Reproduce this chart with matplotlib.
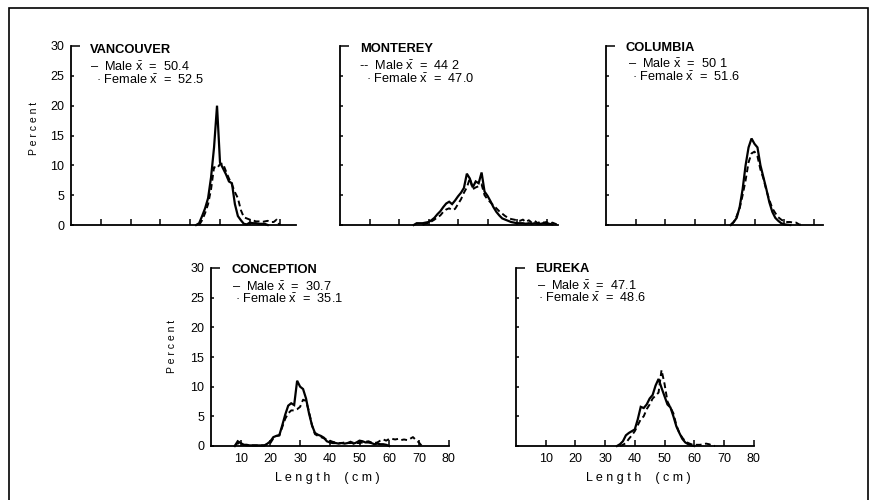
import matplotlib
matplotlib.use("Agg")
import matplotlib.pyplot as plt
from matplotlib.patches import Rectangle

plt.rcParams['font.family'] = ['Liberation Sans', 'DejaVu Sans']
plt.rcParams['mathtext.fontset'] = 'custom'
plt.rcParams['mathtext.rm'] = 'Liberation Sans'
plt.rcParams['mathtext.it'] = 'Liberation Sans'

# ---------------- data (length in cm, percent) ----------------
van_len_m = list(range(42, 67))
van_m = [0, 0.3, 1.5, 2.8, 4.5, 8.0, 13.0, 20.0, 10.5, 9.5, 8.5, 7.3, 7.0, 3.5, 1.5,
         0.8, 0.2, 0.1, 0.4, 0.3, 0.3, 0.2, 0.2, 0.2, 0]
van_len_f = list(range(43, 71))
van_f = [0, 0.8, 2.0, 3.5, 6.0, 9.7, 9.5, 10.2, 10.3, 9.0, 7.8, 6.8, 5.5, 4.5, 2.5,
         1.3, 1.1, 0.9, 0.8, 0.6, 0.6, 0.5, 0.6, 0.7, 0.5, 0.5, 0.9, 0]

mon_len_m = list(range(25, 73))
mon_m = [0, 0.3, 0.3, 0.3, 0.4, 0.5, 0.8, 1.2, 1.8, 2.3, 3.0, 3.6, 3.9, 3.5, 4.1,
         4.8, 5.4, 6.2, 8.6, 7.8, 6.3, 7.3, 7.0, 8.8, 5.6, 4.9, 4.0, 3.0, 2.2, 1.6,
         1.1, 0.9, 0.7, 0.5, 0.4, 0.3, 0.3, 0.3, 0.2, 0.3, 0.2, 0.3, 0.2, 0.2, 0.3,
         0.2, 0.2, 0.1]
mon_len_f = list(range(28, 75))
mon_f = [0, 0.2, 0.3, 0.6, 0.9, 1.3, 1.6, 2.2, 2.6, 2.8, 2.5, 2.7, 3.5, 4.3, 5.4,
         6.3, 7.8, 6.0, 6.3, 6.5, 6.8, 5.0, 4.3, 3.8, 3.3, 2.8, 2.3, 1.9, 1.5, 1.2,
         1.0, 0.9, 0.8, 0.7, 0.9, 0.5, 0.8, 0.4, 0.7, 0.3, 0.6, 0.4, 0.5, 0.2, 0.4,
         0.2, 0]

col_len_m = list(range(42, 63))
col_m = [0, 0.5, 1.2, 3.0, 6.0, 10.0, 13.0, 14.5, 13.6, 13.0, 10.0, 8.0, 6.0, 3.8,
         2.2, 1.2, 0.7, 0.3, 0.1, 0.05, 0]
col_len_f = list(range(42, 67))
col_f = [0, 0.5, 1.5, 2.8, 5.0, 7.5, 10.5, 12.0, 12.3, 11.5, 9.3, 7.8, 5.8, 4.2,
         2.8, 2.0, 1.3, 0.9, 0.6, 0.5, 0.5, 0.4, 0.4, 0.1, 0]

con_len_m = list(range(8, 61))
con_m = [0, 0.8, 0.5, 0.2, 0.2, 0.1, 0.1, 0.1, 0.1, 0.1, 0.1, 0.4, 0.8, 1.5, 1.7,
         1.8, 3.5, 5.3, 6.8, 7.2, 6.9, 11.0, 10.0, 9.6, 8.0, 5.5, 3.5, 2.2, 1.9, 1.7,
         1.4, 0.8, 0.6, 0.5, 0.5, 0.4, 0.5, 0.4, 0.5, 0.7, 0.4, 0.6, 0.9, 0.8, 0.6,
         0.6, 0.5, 0.3, 0.4, 0.3, 0.3, 0.2, 0]
con_len_f = list(range(8, 72))
con_f = [0, 0.5, 0.3, 0.2, 0.1, 0.1, 0.1, 0.1, 0.1, 0.1, 0.1, 0.3, 0.5, 1.3, 1.7,
         1.8, 3.2, 4.6, 5.5, 6.0, 6.0, 6.2, 6.6, 7.8, 7.6, 5.8, 3.5, 2.0, 1.7, 1.5,
         1.3, 1.1, 0.9, 0.7, 0.6, 0.5, 0.5, 0.6, 0.5, 0.5, 0.6, 0.5, 0.5, 0.6, 0.7,
         0.8, 0.6, 0.5, 0.6, 0.9, 1.1, 0.9, 1.2, 1.2, 1.1, 1.2, 1.0, 1.1, 1.0, 1.2,
         1.5, 1.0, 0.6, 0]

eur_len_m = list(range(34, 61))
eur_m = [0, 0.3, 0.8, 1.8, 2.2, 2.5, 2.8, 4.5, 6.6, 6.4, 7.0, 8.0, 8.6, 10.2, 11.3,
         9.8, 8.4, 7.0, 6.5, 5.0, 3.3, 2.2, 1.2, 0.6, 0.3, 0.1, 0]
eur_len_f = list(range(35, 68))
eur_f = [0, 0.2, 0.5, 1.2, 1.8, 2.5, 3.5, 4.5, 5.0, 6.2, 7.0, 8.0, 8.5, 9.0, 12.8,
         10.5, 7.5, 6.5, 5.5, 3.5, 2.2, 1.4, 0.8, 0.5, 0.3, 0.2, 0.2, 0.2, 0.3, 0.4,
         0.3, 0.1, 0]

titles = ["VANCOUVER", "MONTEREY", "COLUMBIA", "CONCEPTION", "EUREKA"]
male_means = ["50.4", "44 2", "50 1", "30.7", "47.1"]
female_means = ["52.5", "47.0", "51.6", "35.1", "48.6"]
yticks = [0, 5, 10, 15, 20, 25, 30]
xticks_top = [10, 20, 30, 40, 50, 60, 70]
xticks_bot = [10, 20, 30, 40, 50, 60, 70, 80]

W, H = 869, 500
fig = plt.figure(figsize=(W / 100, H / 100), dpi=100)
fig.patch.set_facecolor('white')


def ftxt(x, y, s, **kw):
    kw.setdefault('va', 'center')
    kw.setdefault('ha', 'left')
    fig.text(x / W, 1 - y / H, s, **kw)


def panel(x0, ybase, ytop, xmax, pxcm, series, ylabels, xtick_list, xlabels):
    left = x0 / W
    bottom = 1 - ybase / H
    width = xmax * pxcm / W
    height = (ybase - ytop) / H
    ax = fig.add_axes([left, bottom, width, height])
    ax.set_xlim(0, xmax)
    ax.set_ylim(0, 30)
    for s in ['top', 'right']:
        ax.spines[s].set_visible(False)
    for s in ['left', 'bottom']:
        ax.spines[s].set_linewidth(1.3)
    (lm, vm), (lf, vf) = series
    ax.plot(lm, vm, color='black', lw=1.6, solid_joinstyle='miter', clip_on=False)
    ax.plot(lf, vf, color='black', lw=1.4, ls=(0, (3, 1.8)), clip_on=False)
    ax.set_xticks(xtick_list)
    ax.set_yticks(yticks)
    ax.tick_params(axis='x', direction='in', length=4, width=1.1, pad=5,
                   labelsize=9, labelbottom=xlabels)
    ax.tick_params(axis='y', direction='in', length=2.5, width=1.1, pad=5,
                   labelsize=9, labelleft=ylabels)
    # longer cap at 30
    t = ax.yaxis.get_major_ticks()[-1]
    t.tick1line.set_markersize(6.5)
    ax.patch.set_alpha(0)
    return ax


# top row
panel(71, 225, 46, 75.5, 2.98, [(van_len_m, van_m), (van_len_f, van_f)], True, xticks_top, False)
panel(340, 225, 46, 74, 2.95, [(mon_len_m, mon_m), (mon_len_f, mon_f)], False, xticks_top, False)
panel(606, 225, 46, 73, 2.97, [(col_len_m, col_m), (col_len_f, col_f)], False, xticks_top, False)
# bottom row
panel(211, 446, 268, 80, 2.97, [(con_len_m, con_m), (con_len_f, con_f)], True, xticks_bot, True)
panel(516, 446, 268, 80, 2.97, [(eur_len_m, eur_m), (eur_len_f, eur_f)], False, xticks_bot, True)

xbar = r"$\bar{\mathrm{x}}$"
title_pos = [(90, 50), (360, 49), (625, 48), (232, 270), (535, 269)]
male_pos = [(90, 67), (359, 66), (628, 64), (232, 287), (537, 286)]
fem_pos = [(96, 80), (366, 79), (632, 77), (235, 299), (538, 298)]
male_dash = ["\u2013", "--", "\u2013", "\u2013", "\u2013"]
for i in range(5):
    ftxt(*title_pos[i], titles[i], fontsize=9.3, fontweight='bold')
    ftxt(*male_pos[i], f"{male_dash[i]}  Male {xbar}  =  {male_means[i]}", fontsize=9.2)
    ftxt(*fem_pos[i], f"\u00b7 Female {xbar}  =  {female_means[i]}", fontsize=9.2)

ftxt(34, 128, "P e r c e n t", fontsize=7.5, rotation=90, ha='center')
ftxt(172, 346, "P e r c e n t", fontsize=7.5, rotation=90, ha='center')
ftxt(327, 478, "L e n g t h    ( c m )", fontsize=9, ha='center')
ftxt(638, 478, "L e n g t h    ( c m )", fontsize=9, ha='center')

# outer frame
fig.patches.append(Rectangle((9 / W, -0.02), (868 - 9) / W, 1.02 - 8 / H,
                             transform=fig.transFigure, fill=False,
                             edgecolor='black', lw=1.2))

fig.savefig("out.png", dpi=100, facecolor='white')
